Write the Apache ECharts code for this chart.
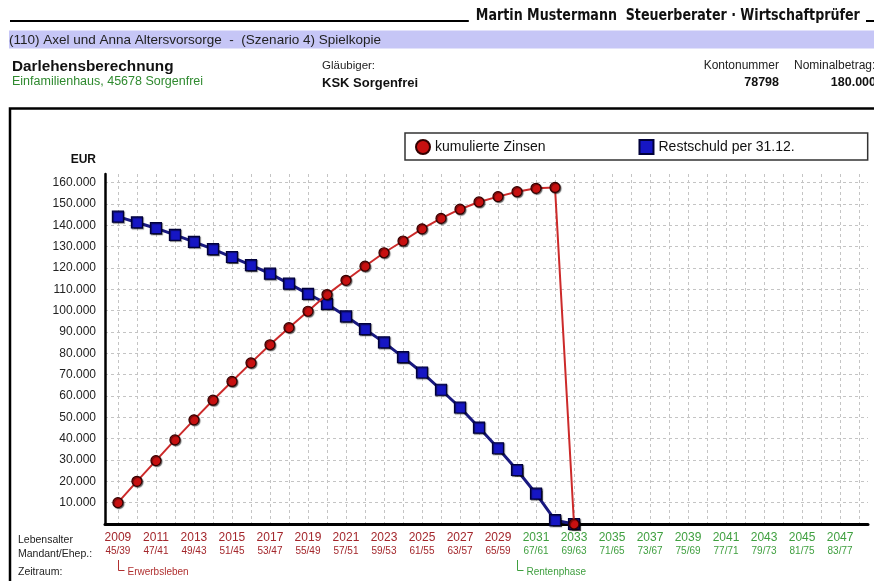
<!DOCTYPE html>
<html>
<head>
<meta charset="utf-8">
<script src="https://cdn.jsdelivr.net/npm/echarts@6/dist/echarts.min.js"></script>
<style>
  html, body { margin: 0; padding: 0; background: #fff; }
  #chart { width: 874px; height: 581px; }
</style>
</head>
<body>
<div id="chart"></div>
<script>
// ---- data ----
const years = [2009, 2010, 2011, 2012, 2013, 2014, 2015, 2016, 2017, 2018, 2019, 2020,
               2021, 2022, 2023, 2024, 2025, 2026, 2027, 2028, 2029, 2030, 2031, 2032, 2033];
const kumulierteZinsen = [10000, 20000, 29700, 39400, 48800, 58000, 66800, 75500, 84000, 92000,
                          99700, 107500, 114200, 120800, 127100, 132600, 138300, 143200, 147500,
                          150900, 153400, 155700, 157300, 157700, 0];
const restschuld = [144000, 141300, 138600, 135500, 132200, 128800, 125100, 121300, 117300, 112600,
                    107800, 103100, 97300, 91300, 85100, 78200, 71000, 62900, 54600, 45200,
                    35500, 25300, 14200, 1800, 0];
const yearLabels = [2009, 2011, 2013, 2015, 2017, 2019, 2021, 2023, 2025, 2027, 2029,
                    2031, 2033, 2035, 2037, 2039, 2041, 2043, 2045, 2047];
const ageLabels = ['45/39', '47/41', '49/43', '51/45', '53/47', '55/49', '57/51', '59/53', '61/55', '63/57', '65/59',
                   '67/61', '69/63', '71/65', '73/67', '75/69', '77/71', '79/73', '81/75', '83/77'];
const labelPhase = ['E', 'E', 'E', 'E', 'E', 'E', 'E', 'E', 'E', 'E', 'E',
                    'R', 'R', 'R', 'R', 'R', 'R', 'R', 'R', 'R'];
const phaseStartYears = [2009, 2030];
const phaseNames = ['Erwerbsleben', 'Rentenphase'];
const yTicks = { min: 0, max: 164000, step: 10000 };
const xRange = { min: 2008.32, max: 2048.47 };

// ---- styles ----
const RED_TXT = '#a3262b';
const GREEN_TXT = '#3f9f3f';
const FONT = '"Liberation Sans", Arial, sans-serif';
const NARROW = '"Liberation Sans Narrow", "Arial Narrow", "DejaVu Sans Condensed", sans-serif';

function fmtDE(v) { return String(v).replace(/\B(?=(\d{3})+(?!\d))/g, '.'); }

const chart = echarts.init(document.getElementById('chart'), null, { renderer: 'canvas' });

const option = {
  animation: false,
  backgroundColor: '#ffffff',
  textStyle: { fontFamily: FONT },
  grid: { left: 105, top: 174, width: 763, height: 350, containLabel: false },
  legend: {
    left: 405, top: 133,
    padding: [6, 73, 5, 10],
    borderColor: '#333', borderWidth: 1.5,
    itemGap: 93, itemWidth: 14, itemHeight: 14,
    textStyle: { fontSize: 14, color: '#111', fontFamily: FONT },
    data: [
      { name: 'kumulierte Zinsen', icon: 'circle' },
      { name: 'Restschuld per 31.12.', icon: 'rect' }
    ]
  },
  xAxis: {
    type: 'value',
    min: xRange.min, max: xRange.max,
    splitNumber: 40, minInterval: 1, maxInterval: 1,
    axisLine: { show: true, lineStyle: { color: '#000', width: 3 } },
    axisTick: { show: false },
    splitLine: { show: true, showMinLine: false, showMaxLine: false,
                 lineStyle: { color: '#c4c4c4', width: 1, type: [3, 3] } },
    axisLabel: {
      margin: 7,
      showMinLabel: false, showMaxLabel: false,
      formatter: function (v) {
        const r = Math.round(v);
        if (Math.abs(v - r) > 1e-6) return '';
        const i = yearLabels.indexOf(r);
        if (i < 0) return '';
        const c = labelPhase[i] === 'E' ? 'r' : 'g';
        return '{' + c + 'y|' + yearLabels[i] + '}\n{' + c + 'a|' + ageLabels[i] + '}';
      },
      rich: {
        ry: { color: RED_TXT, fontSize: 12, lineHeight: 14, fontFamily: FONT },
        ra: { color: RED_TXT, fontSize: 10, lineHeight: 13, fontFamily: FONT },
        gy: { color: GREEN_TXT, fontSize: 12, lineHeight: 14, fontFamily: FONT },
        ga: { color: GREEN_TXT, fontSize: 10, lineHeight: 13, fontFamily: FONT }
      }
    }
  },
  yAxis: {
    type: 'value',
    min: yTicks.min, max: yTicks.max, interval: yTicks.step,
    axisLine: { show: true, lineStyle: { color: '#000', width: 2.5 } },
    axisTick: { show: false },
    splitLine: { show: true, showMinLine: false, showMaxLine: false,
                 lineStyle: { color: '#c4c4c4', width: 1, type: [3, 3] } },
    axisLabel: {
      margin: 9, showMinLabel: false, showMaxLabel: false,
      color: '#222', fontSize: 12, fontFamily: FONT,
      formatter: fmtDE
    }
  },
  series: [
    {
      name: 'Restschuld per 31.12.',
      type: 'line', z: 2,
      data: years.map((y, i) => [y, restschuld[i]]),
      symbol: 'rect', symbolSize: 11,
      lineStyle: { color: '#191980', width: 3 },
      itemStyle: { color: '#1616c4', borderColor: '#00003a', borderWidth: 1.2,
                   shadowColor: 'rgba(0,0,0,0.5)', shadowBlur: 1, shadowOffsetX: 1, shadowOffsetY: 1 }
    },
    {
      name: 'kumulierte Zinsen',
      type: 'line', z: 3,
      data: years.map((y, i) => [y, kumulierteZinsen[i]]),
      symbol: 'circle', symbolSize: 10,
      lineStyle: { color: '#cc2a2a', width: 2 },
      itemStyle: { color: '#c81010', borderColor: '#320000', borderWidth: 1.2,
                   shadowColor: 'rgba(0,0,0,0.5)', shadowBlur: 1, shadowOffsetX: 1, shadowOffsetY: 1 }
    }
  ]
};
chart.setOption(option);

// ---- static page decorations ----
const g = [
  // top rule + firm name
  { type: 'line', shape: { x1: 10, y1: 21, x2: 874, y2: 21 }, style: { stroke: '#000', lineWidth: 2.2 } },
  { type: 'text', x: 866, y: 16, scaleX: 0.88, style: { text: 'Martin Mustermann  Steuerberater \u00b7 Wirtschaftpr\u00fcfer',
      font: 'bold 16px ' + NARROW, fill: '#111', align: 'right', verticalAlign: 'middle',
      backgroundColor: '#fff', padding: [0, 7, 0, 8] } },
  // lavender bar
  { type: 'rect', shape: { x: 9, y: 30.5, width: 870, height: 18 }, style: { fill: '#c6c6f6' } },
  { type: 'text', x: 9, y: 40, style: { text: '(110) Axel und Anna Altersvorsorge  -  (Szenario 4) Spielkopie',
      font: '13.5px ' + FONT, fill: '#222', verticalAlign: 'middle' } },
  // info block
  { type: 'text', x: 12, y: 67, style: { text: 'Darlehensberechnung', font: 'bold 15.3px ' + FONT, fill: '#111', verticalAlign: 'middle' } },
  { type: 'text', x: 12, y: 82, style: { text: 'Einfamilienhaus, 45678 Sorgenfrei', font: '12.5px ' + FONT, fill: '#2f8a2f', verticalAlign: 'middle' } },
  { type: 'text', x: 322, y: 66, style: { text: 'Gl\u00e4ubiger:', font: '11.5px ' + FONT, fill: '#222', verticalAlign: 'middle' } },
  { type: 'text', x: 322, y: 83, style: { text: 'KSK Sorgenfrei', font: 'bold 13px ' + FONT, fill: '#111', verticalAlign: 'middle' } },
  { type: 'text', x: 779, y: 66, style: { text: 'Kontonummer', font: '12px ' + FONT, fill: '#222', align: 'right', verticalAlign: 'middle' } },
  { type: 'text', x: 779, y: 83, style: { text: '78798', font: 'bold 12.5px ' + FONT, fill: '#111', align: 'right', verticalAlign: 'middle' } },
  { type: 'text', x: 794, y: 66, style: { text: 'Nominalbetrag:', font: '12px ' + FONT, fill: '#222', verticalAlign: 'middle' } },
  { type: 'text', x: 876, y: 83, style: { text: '180.000', font: 'bold 12.5px ' + FONT, fill: '#111', align: 'right', verticalAlign: 'middle' } },
  // chart frame
  { type: 'rect', shape: { x: 10, y: 108.5, width: 900, height: 600 }, style: { fill: 'none', stroke: '#000', lineWidth: 2.5 } },
  // axis unit
  { type: 'text', x: 96, y: 160, style: { text: 'EUR', font: 'bold 12px ' + FONT, fill: '#111', align: 'right', verticalAlign: 'middle' } },
  // row captions
  { type: 'text', x: 18, y: 540, style: { text: 'Lebensalter', font: '10.5px ' + FONT, fill: '#222', verticalAlign: 'middle' } },
  { type: 'text', x: 18, y: 554, style: { text: 'Mandant/Ehep.:', font: '10.5px ' + FONT, fill: '#222', verticalAlign: 'middle' } },
  { type: 'text', x: 18, y: 572, style: { text: 'Zeitraum:', font: '10.5px ' + FONT, fill: '#222', verticalAlign: 'middle' } }
];

// phase brackets positioned through the x scale
phaseStartYears.forEach((yr, i) => {
  const px = Math.round(chart.convertToPixel({ xAxisIndex: 0 }, yr)) + 0.5;
  const col = i === 0 ? '#b03030' : '#3f9f3f';
  g.push({ type: 'polyline', shape: { points: [[px, 560], [px, 570.5], [px + 6, 570.5]] },
           style: { stroke: col, lineWidth: 1, fill: 'none' } });
  g.push({ type: 'text', x: px + 9, y: 572, style: { text: phaseNames[i], font: '10px ' + FONT, fill: col, verticalAlign: 'middle' } });
});

chart.setOption({ graphic: { elements: g } });
</script>
</body>
</html>
